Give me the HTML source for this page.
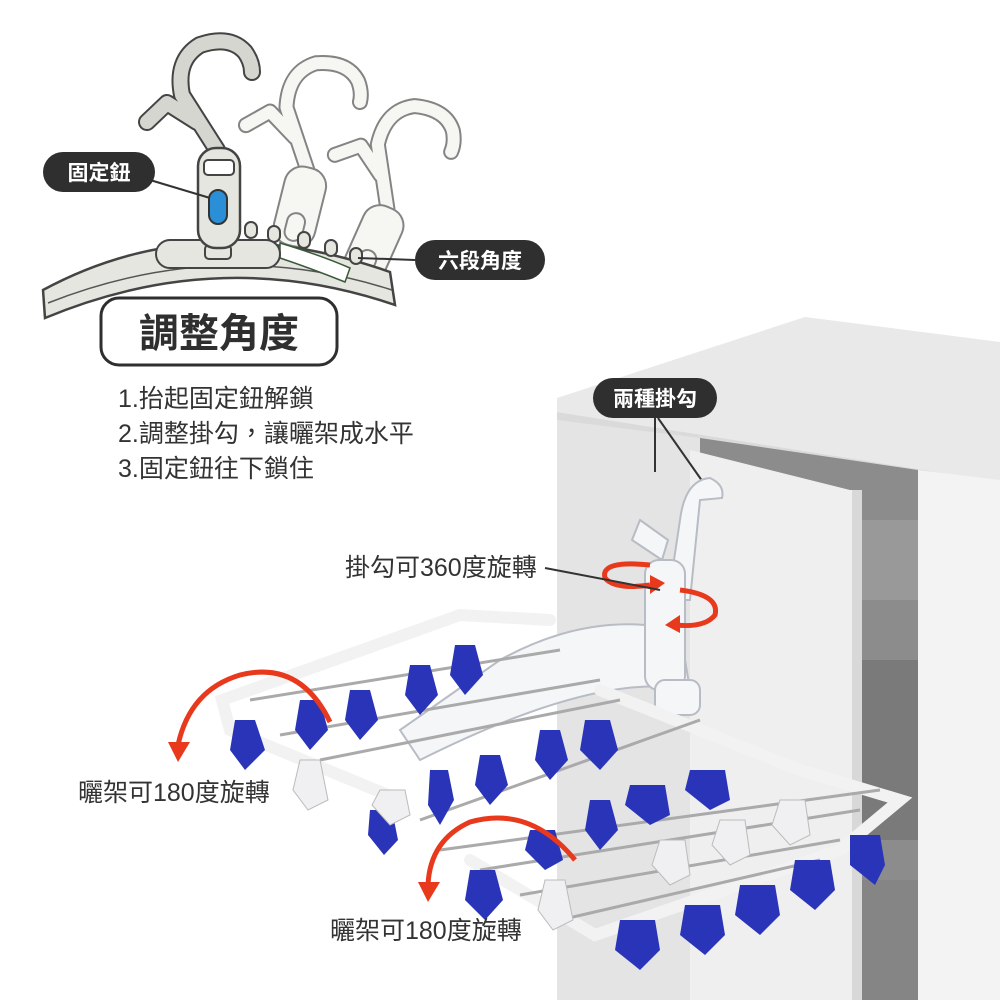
<!DOCTYPE html>
<html><head><meta charset="utf-8"><style>
html,body{margin:0;padding:0;background:#fff;}
svg{display:block;}
text{font-family:"Liberation Sans","Noto Sans CJK TC",sans-serif;}
</style></head><body>
<svg width="1000" height="1000" viewBox="0 0 1000 1000" xmlns="http://www.w3.org/2000/svg">
<defs>
<g id="hk">
<path d="M217,150 L182,95 Q175,60 200,45 Q230,35 245,52 Q252,62 252,72" fill="none" stroke="#555" stroke-width="17" stroke-linecap="round" stroke-linejoin="round"/>
<path d="M197,122 L167,103 L147,122" fill="none" stroke="#555" stroke-width="17" stroke-linecap="round" stroke-linejoin="round"/>
<path d="M217,150 L182,95 Q175,60 200,45 Q230,35 245,52 Q252,62 252,72" fill="none" stroke="VAR" stroke-width="13" stroke-linecap="round" stroke-linejoin="round"/>
</g>
</defs>
<rect width="1000" height="1000" fill="#fff"/>
<!-- cabinet -->
<polygon points="557,398 805,317 1000,342 1000,482 557,412" fill="#e9e9e9"/>
<polygon points="557,412 1000,482 1000,488 557,420" fill="#dadada"/>
<polygon points="557,420 700,438 700,1000 557,1000" fill="#e4e4e4"/>
<polygon points="700,438 918,470 918,1000 700,1000" fill="#8c8c8c"/>
<rect x="862" y="520" width="56" height="80" fill="#999"/>
<rect x="862" y="660" width="56" height="180" fill="#7a7a7a"/>
<rect x="862" y="880" width="56" height="120" fill="#858585"/>
<polygon points="918,470 1000,480 1000,1000 918,1000" fill="#f3f3f3"/>
<polygon points="690,450 850,490 862,490 862,1000 690,1000" fill="#efefef"/>
<polygon points="852,490 862,490 862,1000 852,1000" fill="#d8d8d8"/>
<!-- top-left hanger illustration: ghosts -->
<g opacity="0.9" transform="translate(78,18) rotate(14,218,200)">
<path d="M217,150 L182,95 Q175,60 200,45 Q230,35 245,52 Q252,62 252,72" fill="none" stroke="#777" stroke-width="16" stroke-linecap="round" stroke-linejoin="round"/>
<path d="M197,122 L167,103 L147,122" fill="none" stroke="#777" stroke-width="16" stroke-linecap="round" stroke-linejoin="round"/>
<path d="M217,150 L182,95 Q175,60 200,45 Q230,35 245,52 Q252,62 252,72" fill="none" stroke="#f6f6f2" stroke-width="12" stroke-linecap="round" stroke-linejoin="round"/>
<path d="M197,122 L167,103 L147,122" fill="none" stroke="#f6f6f2" stroke-width="12" stroke-linecap="round" stroke-linejoin="round"/>
<rect x="198" y="148" width="42" height="80" rx="18" fill="#f6f6f2" stroke="#777" stroke-width="2"/>
<rect x="210" y="195" width="18" height="28" rx="9" fill="none" stroke="#777" stroke-width="2"/>
</g>
<g opacity="0.9" transform="translate(150,55) rotate(24,218,200)">
<path d="M217,150 L182,95 Q175,60 200,45 Q230,35 245,52 Q252,62 252,72" fill="none" stroke="#777" stroke-width="16" stroke-linecap="round" stroke-linejoin="round"/>
<path d="M197,122 L167,103 L147,122" fill="none" stroke="#777" stroke-width="16" stroke-linecap="round" stroke-linejoin="round"/>
<path d="M217,150 L182,95 Q175,60 200,45 Q230,35 245,52 Q252,62 252,72" fill="none" stroke="#f6f6f2" stroke-width="12" stroke-linecap="round" stroke-linejoin="round"/>
<path d="M197,122 L167,103 L147,122" fill="none" stroke="#f6f6f2" stroke-width="12" stroke-linecap="round" stroke-linejoin="round"/>
<rect x="198" y="148" width="42" height="80" rx="18" fill="#f6f6f2" stroke="#777" stroke-width="2"/>
<rect x="210" y="195" width="18" height="28" rx="9" fill="none" stroke="#777" stroke-width="2"/>
</g>
<!-- main bar -->
<path d="M43,290 Q200,205 390,272 L395,305 Q220,245 45,318 Z" fill="#e6e6e0" stroke="#444" stroke-width="2.5"/>
<path d="M48,303 Q220,235 392,290" fill="none" stroke="#555" stroke-width="1.5"/>
<path d="M280,243 Q320,255 350,268 L345,282 Q310,268 280,258 Z" fill="#fff" stroke="#3a5a3a" stroke-width="1.5"/>
<g fill="#e6e6e0" stroke="#444" stroke-width="2">
<rect x="245" y="222" width="12" height="16" rx="6"/><rect x="268" y="226" width="12" height="16" rx="6"/>
<rect x="298" y="232" width="12" height="16" rx="6"/><rect x="325" y="240" width="12" height="16" rx="6"/>
<rect x="350" y="248" width="12" height="16" rx="6"/>
</g>
<rect x="156" y="240" width="124" height="28" rx="14" fill="#e6e6e0" stroke="#444" stroke-width="2"/>
<rect x="205" y="245" width="26" height="14" rx="4" fill="none" stroke="#444" stroke-width="2"/>
<!-- main hook -->
<path d="M217,150 L182,95 Q175,60 200,45 Q230,35 245,52 Q252,62 252,72" fill="none" stroke="#444" stroke-width="18" stroke-linecap="round" stroke-linejoin="round"/>
<path d="M197,122 L167,103 L147,122" fill="none" stroke="#444" stroke-width="18" stroke-linecap="round" stroke-linejoin="round"/>
<path d="M217,150 L182,95 Q175,60 200,45 Q230,35 245,52 Q252,62 252,72" fill="none" stroke="#d6d6d0" stroke-width="14" stroke-linecap="round" stroke-linejoin="round"/>
<path d="M197,122 L167,103 L147,122" fill="none" stroke="#d6d6d0" stroke-width="14" stroke-linecap="round" stroke-linejoin="round"/>
<rect x="198" y="148" width="42" height="100" rx="18" fill="#e6e6e0" stroke="#444" stroke-width="2.5"/>
<rect x="204" y="160" width="30" height="15" rx="4" fill="#fff" stroke="#444" stroke-width="2"/>
<rect x="209" y="190" width="18" height="34" rx="9" fill="#2a8fd6" stroke="#333" stroke-width="2"/>
<line x1="150" y1="180" x2="210" y2="198" stroke="#333" stroke-width="2"/>
<line x1="358" y1="258" x2="415" y2="260" stroke="#333" stroke-width="2"/>
<!-- labels -->
<rect x="43" y="152" width="112" height="40" rx="20" fill="#2f2f2f"/>
<text x="99" y="180" font-size="21" font-weight="bold" fill="#fff" text-anchor="middle">固定鈕</text>
<rect x="415" y="240" width="130" height="40" rx="20" fill="#2f2f2f"/>
<text x="480" y="268" font-size="21" font-weight="bold" fill="#fff" text-anchor="middle">六段角度</text>
<rect x="593" y="378" width="124" height="40" rx="20" fill="#2f2f2f"/>
<text x="655" y="406" font-size="21" font-weight="bold" fill="#fff" text-anchor="middle">兩種掛勾</text>
<line x1="655" y1="418" x2="655" y2="472" stroke="#333" stroke-width="2"/>
<line x1="658" y1="418" x2="705" y2="485" stroke="#333" stroke-width="2"/>
<rect x="101" y="298" width="236" height="67" rx="18" fill="#fff" stroke="#2f2f2f" stroke-width="3"/>
<text x="219" y="347" font-size="40" font-weight="bold" fill="#2f2f2f" text-anchor="middle">調整角度</text>
<text x="118" y="407" font-size="25" fill="#333">1.抬起固定鈕解鎖</text>
<text x="118" y="442" font-size="25" fill="#333">2.調整掛勾，讓曬架成水平</text>
<text x="118" y="477" font-size="25" fill="#333">3.固定鈕往下鎖住</text>
<!-- hook on door -->
<g fill="#f4f6f8" stroke="#b8bcc4" stroke-width="2">
<path d="M668,600 L680,520 Q685,480 710,478 Q725,485 722,498 L700,500 L690,600 Z"/>
<path d="M640,520 L668,540 L662,560 L632,540 Z"/>
<path d="M500,660 Q590,610 680,630 L690,690 Q600,670 420,760 L400,730 Z"/>
<rect x="645" y="560" width="40" height="130" rx="14"/>
<rect x="655" y="680" width="45" height="35" rx="10"/>
</g>
<!-- rack frame -->
<g stroke="#f2f2f2" stroke-width="12" fill="none" stroke-linecap="round">
<path d="M550,620 L460,615 L222,700 L230,730 L400,800"/>
<path d="M600,690 L800,770 L900,800 L840,850 L595,935 L470,860"/>
</g>
<g stroke="#aaa" stroke-width="3" fill="none">
<path d="M250,700 L560,650 M280,735 L600,680 M320,760 L620,700 M440,850 L880,790 M480,870 L860,810 M520,895 L840,840 M560,920 L820,860"/>
<path d="M420,820 L700,720"/>
</g>
<!-- clips -->
<g fill="#2a34b8">
<path d="M235,720 l20,0 l10,30 l-20,20 l-15,-20z"/><path d="M300,700 l20,0 l8,30 l-18,20 l-15,-20z"/>
<path d="M350,690 l20,0 l8,30 l-18,20 l-15,-20z"/><path d="M410,665 l20,0 l8,30 l-18,20 l-15,-20z"/>
<path d="M455,645 l20,0 l8,30 l-18,20 l-15,-20z"/><path d="M540,730 l20,0 l8,30 l-18,20 l-15,-20z"/>
<path d="M585,720 l25,0 l8,30 l-18,20 l-20,-20z"/><path d="M480,755 l20,0 l8,30 l-18,20 l-15,-20z"/>
<path d="M430,770 l18,0 l6,30 l-14,25 l-12,-20z"/><path d="M370,810 l22,0 l6,30 l-14,15 l-16,-20z"/>
<path d="M470,870 l25,0 l8,30 l-18,20 l-20,-20z"/><path d="M530,830 l25,0 l8,30 l-18,10 l-20,-20z"/>
<path d="M590,800 l20,0 l8,30 l-18,20 l-15,-20z"/><path d="M630,785 l35,0 l5,30 l-20,10 l-25,-20z"/>
<path d="M690,770 l35,0 l5,30 l-20,10 l-25,-20z"/><path d="M620,920 l35,0 l5,30 l-20,20 l-25,-20z"/>
<path d="M685,905 l35,0 l5,30 l-20,20 l-25,-20z"/><path d="M740,885 l35,0 l5,30 l-20,20 l-25,-20z"/>
<path d="M795,860 l35,0 l5,30 l-20,20 l-25,-20z"/><path d="M850,835 l30,0 l5,30 l-10,20 l-25,-20z"/>
</g>
<g fill="#f0f0f3" stroke="#bbb">
<path d="M300,760 l20,0 l8,40 l-20,10 l-15,-20z"/><path d="M545,880 l20,0 l8,40 l-20,10 l-15,-20z"/>
<path d="M660,840 l25,0 l5,35 l-20,10 l-18,-20z"/><path d="M720,820 l25,0 l5,35 l-20,10 l-18,-20z"/>
<path d="M780,800 l25,0 l5,35 l-20,10 l-18,-20z"/><path d="M380,790 l25,0 l5,25 l-20,10 l-18,-20z"/>
</g>
<!-- red arrows -->
<g stroke="#e8391d" stroke-width="5" fill="none">
<path d="M330,722 Q300,660 240,675 Q190,690 178,745"/>
<path d="M575,860 Q530,805 470,822 Q430,840 428,885"/>
<path d="M650,565 Q600,560 605,578 Q615,590 650,585"/>
<path d="M680,590 Q720,595 715,615 Q705,628 675,625"/>
</g>
<g fill="#e8391d">
<polygon points="168,742 190,742 178,762"/><polygon points="418,882 440,882 428,902"/>
<polygon points="650,575 665,583 650,594"/><polygon points="680,615 665,625 680,633"/>
</g>
<line x1="545" y1="568" x2="660" y2="590" stroke="#333" stroke-width="2"/>
<text x="345" y="576" font-size="25" fill="#333">掛勾可360度旋轉</text>
<text x="78" y="801" font-size="25" fill="#333">曬架可180度旋轉</text>
<text x="330" y="939" font-size="25" fill="#333">曬架可180度旋轉</text>
</svg>
</body></html>
